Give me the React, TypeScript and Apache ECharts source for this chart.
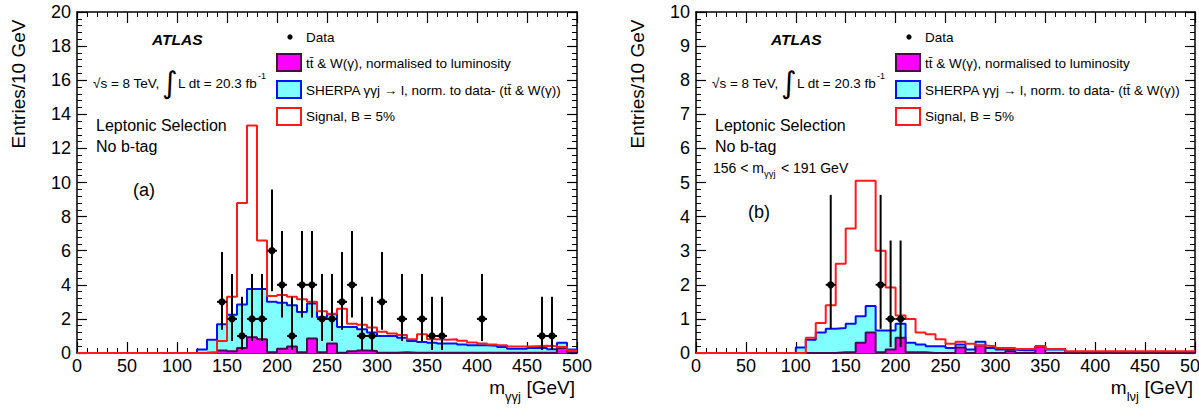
import React, { useEffect, useRef } from 'react';
import * as echarts from 'echarts';

const FONT = '"Liberation Sans", Arial, Helvetica, sans-serif';

const BIN_WIDTH = 10; // GeV
const X_MIN = 0;
const X_MAX = 500;
const X_INTERVAL = 50;

// ---- (a) m_γγj, 10 GeV bins from 0 to 500 GeV ----
const bkgTotalA = [
  0, 0, 0, 0, 0, 0, 0, 0, 0, 0, 0, 0, 0.2, 0.78, 1.69, 2.25, 2.85, 3.75, 3.75, 3.0,
  2.95, 2.8, 2.4, 2.9, 2.1, 2.27, 1.53, 1.53, 1.4, 1.2,
  1.0, 1.0, 0.9, 0.7, 0.65, 0.6, 0.55, 0.55, 0.5, 0.45,
  0.45, 0.42, 0.35, 0.25, 0.25, 0.3, 0.3, 0.22, 0.6, 0.2,
];
const ttWA = [
  0, 0, 0, 0, 0, 0, 0, 0, 0, 0, 0, 0, 0.02, 0.05, 0.15, 0.1, 0.3, 0.92, 0.8, 0.05,
  0.25, 0.38, 0.05, 0.85, 0.05, 0.55, 0.02, 0.1, 0.15, 0.12,
  0.02, 0.02, 0.05, 0.02, 0.02, 0.02, 0.02, 0.02, 0.02, 0.02,
  0.02, 0.02, 0.02, 0.02, 0.02, 0.02, 0.02, 0.02, 0.3, 0.05,
];
const signalA = [
  0, 0, 0, 0, 0, 0, 0, 0, 0, 0, 0, 0, 0, 0, 0.7, 3.3, 8.8, 13.35, 6.6, 3.35,
  3.4, 3.3, 3.15, 3.0, 2.45, 2.3, 2.6, 1.72, 1.65, 1.5,
  1.25, 1.15, 1.05, 0.8, 1.1, 0.8, 0.78, 0.8, 0.72, 0.62,
  0.55, 0.5, 0.45, 0.38, 0.38, 0.4, 0.42, 0.4, 0.35, 0.15,
];
const dataA = [
  0, 0, 0, 0, 0, 0, 0, 0, 0, 0, 0, 0, 0, 0, 3, 2, 1, 2, 2, 6,
  4, 1, 4, 4, 2, 2, 3, 4, 1, 1,
  3, 0, 2, 0, 2, 1, 1, 0, 0, 0,
  2, 0, 0, 0, 0, 0, 1, 1, 0, 0,
];

// ---- (b) m_lνj, 10 GeV bins from 0 to 500 GeV ----
const bkgTotalB = [
  0, 0, 0, 0, 0, 0, 0, 0, 0, 0, 0.16, 0.39, 0.6, 0.71, 0.73, 0.86, 1.08, 1.38, 0.66, 0.66,
  0.86, 0.3, 0.25, 0.2, 0.2, 0.15, 0.25, 0.1, 0.33, 0.15,
  0.1, 0.1, 0.08, 0.08, 0.2, 0.1, 0.1, 0.02, 0.02, 0.02,
  0.02, 0.02, 0.02, 0.02, 0.02, 0.02, 0.02, 0.02, 0.02, 0.02,
];
const ttWB = [
  0, 0, 0, 0, 0, 0, 0, 0, 0, 0, 0, 0, 0, 0, 0.02, 0.03, 0.3, 0.6, 0.02, 0.1,
  0.45, 0.02, 0.02, 0, 0, 0, 0.16, 0, 0.22, 0,
  0, 0.05, 0, 0, 0.18, 0, 0, 0, 0, 0,
  0, 0, 0, 0, 0, 0, 0, 0, 0, 0,
];
const signalB = [
  0, 0, 0, 0, 0, 0, 0, 0, 0, 0, 0, 0.45, 0.88, 1.4, 2.62, 3.65, 5.05, 5.05, 3.0, 1.92,
  1.1, 1.0, 0.6, 0.55, 0.4, 0.27, 0.33, 0.27, 0.22, 0.2,
  0.15, 0.15, 0.12, 0.12, 0.2, 0.12, 0.12, 0.05, 0.05, 0.05,
  0.05, 0.05, 0.05, 0.05, 0.05, 0.05, 0.05, 0.05, 0.05, 0.05,
];
const dataB = [
  0, 0, 0, 0, 0, 0, 0, 0, 0, 0, 0, 0, 0, 2, 0, 0, 0, 0, 2, 1,
  1, 0, 0, 0, 0, 0, 0, 0, 0, 0,
  0, 0, 0, 0, 0, 0, 0, 0, 0, 0,
  0, 0, 0, 0, 0, 0, 0, 0, 0, 0,
];

// 68% Poisson (Garwood) intervals, indexed by observed count
const POISSON_LOW = [0, 0.827, 1.292, 1.633, 1.914, 2.159, 2.379];
const POISSON_HIGH = [1.841, 2.299, 2.637, 2.918, 3.162, 3.382, 3.583];

const Y_MAX_A = 20;
const Y_INTERVAL_A = 2;
const Y_MAX_B = 10;
const Y_INTERVAL_B = 1;

const legendLabels = [
  'Data',
  'tt\u0304 & W(\u03b3), normalised to luminosity',
  'SHERPA \u03b3\u03b3j \u2192 l, norm. to data- (tt\u0304 & W(\u03b3))',
  'Signal, B = 5%',
];

const COLOR_TTW_FILL = '#ff00ff';
const COLOR_TTW_LINE = '#4a0a4a';
const COLOR_SHERPA_FILL = '#80ffff';
const COLOR_SHERPA_LINE = '#0010ff';
const COLOR_SIGNAL = '#ff1a1a';

const PANELS = [
  { left: 77, top: 12, width: 500, height: 341 },
  { left: 696, top: 12, width: 499, height: 341 },
];

function stepPoints(values: number[]) {
  const pts = values.map((v, i) => [i * BIN_WIDTH, v]);
  pts.push([values.length * BIN_WIDTH, values[values.length - 1]]);
  return pts;
}

function dataPoints(counts: number[]) {
  const out: number[][] = [];
  counts.forEach((n, i) => {
    if (n > 0) {
      out.push([i * BIN_WIDTH + BIN_WIDTH / 2, n, n - POISSON_LOW[n], n + POISSON_HIGH[n]]);
    }
  });
  return out;
}

function xAxis(gridIndex: number, position: string, showLabel: boolean) {
  return {
    type: 'value',
    gridIndex,
    position,
    min: X_MIN,
    max: X_MAX,
    interval: X_INTERVAL,
    silent: true,
    axisLine: { show: true, onZero: false, lineStyle: { color: '#000', width: 1.5 } },
    axisTick: { show: true, inside: true, length: 11, lineStyle: { color: '#000', width: 1.2 } },
    minorTick: { show: true, splitNumber: 5, length: 5, lineStyle: { color: '#000', width: 1 } },
    splitLine: { show: false },
    minorSplitLine: { show: false },
    axisLabel: { show: showLabel, color: '#000', fontSize: 18, fontFamily: FONT, margin: 4 },
  };
}

function yAxis(gridIndex: number, position: string, showLabel: boolean, max: number, interval: number) {
  return {
    type: 'value',
    gridIndex,
    position,
    min: 0,
    max,
    interval,
    silent: true,
    axisLine: { show: true, onZero: false, lineStyle: { color: '#000', width: 1.5 } },
    axisTick: { show: true, inside: true, length: 10, lineStyle: { color: '#000', width: 1.2 } },
    minorTick: { show: true, splitNumber: 5, length: 5, lineStyle: { color: '#000', width: 1 } },
    splitLine: { show: false },
    minorSplitLine: { show: false },
    axisLabel: { show: showLabel, color: '#000', fontSize: 18, fontFamily: FONT, margin: 6 },
  };
}

function histSeries(axisIdx: number, total: number[], ttw: number[], signal: number[], counts: number[]) {
  return [
    {
      type: 'line',
      xAxisIndex: axisIdx,
      yAxisIndex: axisIdx,
      step: 'end',
      data: stepPoints(total),
      symbol: 'none',
      silent: true,
      lineStyle: { color: COLOR_SHERPA_LINE, width: 2 },
      areaStyle: { color: COLOR_SHERPA_FILL, opacity: 1 },
      z: 2,
    },
    {
      type: 'line',
      xAxisIndex: axisIdx,
      yAxisIndex: axisIdx,
      step: 'end',
      data: stepPoints(ttw),
      symbol: 'none',
      silent: true,
      lineStyle: { color: COLOR_TTW_LINE, width: 2 },
      areaStyle: { color: COLOR_TTW_FILL, opacity: 1 },
      z: 3,
    },
    {
      type: 'line',
      xAxisIndex: axisIdx,
      yAxisIndex: axisIdx,
      step: 'end',
      data: stepPoints(signal),
      symbol: 'none',
      silent: true,
      lineStyle: { color: COLOR_SIGNAL, width: 2 },
      z: 4,
    },
    {
      type: 'custom',
      xAxisIndex: axisIdx,
      yAxisIndex: axisIdx,
      data: dataPoints(counts),
      silent: true,
      clip: true,
      z: 5,
      renderItem: (_params: any, api: any) => {
        const x = api.value(0);
        const n = api.value(1);
        const c = api.coord([x, n]);
        const lo = api.coord([x, api.value(2)]);
        const hi = api.coord([x, api.value(3)]);
        const l = api.coord([x - BIN_WIDTH / 2, n]);
        const r = api.coord([x + BIN_WIDTH / 2, n]);
        return {
          type: 'group',
          children: [
            { type: 'line', shape: { x1: c[0], y1: lo[1], x2: c[0], y2: hi[1] }, style: { stroke: '#000', lineWidth: 2 } },
            { type: 'line', shape: { x1: l[0], y1: c[1], x2: r[0], y2: c[1] }, style: { stroke: '#000', lineWidth: 2 } },
            { type: 'circle', shape: { cx: c[0], cy: c[1], r: 3.6 }, style: { fill: '#000' } },
          ],
        };
      },
    },
  ];
}

function txt(x: number, y: number, text: string, fontSize: number, extra: any = {}, align = 'left') {
  return {
    type: 'text',
    x,
    y,
    silent: true,
    style: {
      text,
      fill: '#000',
      fontSize,
      fontFamily: FONT,
      align,
      textAlign: align,
      verticalAlign: 'middle',
      textVerticalAlign: 'middle',
      ...extra,
    },
  };
}

function panelGraphics(dx: number, tag: string, tagX: number, tagY: number, xSub: string, subW: number, axisEnd: number) {
  const items: any[] = [];
  // y-axis title
  items.push({ ...txt(18 + dx, 84, 'Entries/10 GeV', 19, {}, 'center'), rotation: Math.PI / 2 });
  // x-axis title
  items.push(txt(axisEnd, 387, '[GeV]', 19, {}, 'right'));
  items.push(txt(axisEnd - 54, 396, xSub, 13, {}, 'right'));
  items.push(txt(axisEnd - 54 - subW, 387, 'm', 19, {}, 'right'));
  // experiment label and conditions
  items.push(txt(152 + dx, 39, 'ATLAS', 15.5, { fontWeight: 'bold', fontStyle: 'italic' }));
  items.push(txt(93 + dx, 83, '\u221as = 8 TeV,', 13.5));
  items.push(txt(162 + dx, 82, '\u222b', 30, { fontFamily: '"DejaVu Sans", sans-serif', fontWeight: 'normal' }));
  items.push(txt(178 + dx, 83, 'L dt = 20.3 fb', 13.5));
  items.push(txt(258 + dx, 76, '-1', 9));
  items.push(txt(96 + dx, 125, 'Leptonic Selection', 16));
  items.push(txt(96 + dx, 146, 'No b-tag', 16));
  items.push(txt(tagX, tagY, tag, 18));
  // legend
  const lx = 277 + dx;
  items.push({ type: 'circle', silent: true, shape: { cx: lx + 13, cy: 37, r: 2.6 }, style: { fill: '#000' } });
  items.push({ type: 'rect', silent: true, shape: { x: lx, y: 54, width: 24, height: 17 }, style: { fill: COLOR_TTW_FILL, stroke: COLOR_TTW_LINE, lineWidth: 2 } });
  items.push({ type: 'rect', silent: true, shape: { x: lx, y: 81, width: 24, height: 17 }, style: { fill: COLOR_SHERPA_FILL, stroke: COLOR_SHERPA_LINE, lineWidth: 2 } });
  items.push({ type: 'rect', silent: true, shape: { x: lx, y: 108, width: 24, height: 17 }, style: { fill: '#fff', stroke: COLOR_SIGNAL, lineWidth: 2 } });
  const rowsY = [37, 63, 90, 116];
  legendLabels.forEach((label, i) => items.push(txt(lx + 29, rowsY[i], label, 13.5)));
  return items;
}

export default function App() {
  const ref = useRef<HTMLDivElement>(null);

  useEffect(() => {
    if (!ref.current) return;
    const chart = echarts.init(ref.current, undefined, { renderer: 'svg' });

    const graphic: any[] = [
      ...panelGraphics(0, '(a)', 133, 190, '\u03b3\u03b3j', 16, 575),
      ...panelGraphics(619, '(b)', 748, 212, 'l\u03bdj', 12.5, 1193),
      // mass window for (b)
      txt(713, 168, '156 < m', 14),
      txt(764, 173, '\u03b3\u03b3j', 9.5),
      txt(777, 168, ' < 191 GeV', 14),
    ];

    const option: any = {
      animation: false,
      backgroundColor: '#fff',
      grid: PANELS.map((p) => ({ ...p, containLabel: false, outerBoundsMode: 'none' })),
      xAxis: [xAxis(0, 'bottom', true), xAxis(0, 'top', false), xAxis(1, 'bottom', true), xAxis(1, 'top', false)],
      yAxis: [
        yAxis(0, 'left', true, Y_MAX_A, Y_INTERVAL_A),
        yAxis(0, 'right', false, Y_MAX_A, Y_INTERVAL_A),
        yAxis(1, 'left', true, Y_MAX_B, Y_INTERVAL_B),
        yAxis(1, 'right', false, Y_MAX_B, Y_INTERVAL_B),
      ],
      series: [
        ...histSeries(0, bkgTotalA, ttWA, signalA, dataA),
        ...histSeries(2, bkgTotalB, ttWB, signalB, dataB),
      ],
      graphic,
    };

    chart.setOption(option);
    return () => chart.dispose();
  }, []);

  return (
    <div
      ref={ref}
      style={{ position: 'absolute', left: 0, top: 0, width: 1199, height: 416, background: '#fff' }}
    />
  );
}
